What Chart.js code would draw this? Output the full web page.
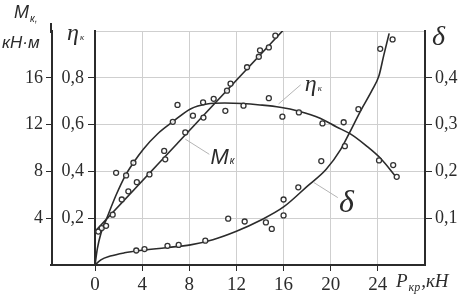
<!DOCTYPE html>
<html>
<head>
<meta charset="utf-8">
<script src="https://cdn.jsdelivr.net/npm/chart.js@4.4.1/dist/chart.umd.min.js"></script>
<style>
  html, body { margin: 0; padding: 0; background: #fff; }
</style>
</head>
<body>
<canvas id="chart" width="469" height="306"></canvas>
<script>
// tick labels
const xTicks = [0, 4, 8, 12, 16, 20, 24];
const mTicks = [4, 8, 12, 16];
const etaTicks = [0.2, 0.4, 0.6, 0.8];
const deltaTicks = [0.1, 0.2, 0.3, 0.4];

// fitted curves (P, kN)
const mLineP = [0, 16];
const mLineV = [2.86, 20.1];
const etaCurveP = [0, 0.2, 0.5, 1.0, 1.8, 2.55, 3.3, 4.1, 5.3, 6.6, 8.1, 9.5, 11, 12.5, 14, 15.7, 17.3, 19.1, 20.5, 21.7, 23, 24.3, 25.5];
const etaCurveV = [0, 0.07, 0.135, 0.2, 0.3, 0.38, 0.44, 0.495, 0.56, 0.612, 0.667, 0.688, 0.692, 0.69, 0.684, 0.674, 0.657, 0.627, 0.59, 0.559, 0.51, 0.452, 0.379];
const deltaCurveP = [0, 0.5, 1.3, 2.5, 3.8, 6, 8.1, 10, 12, 14, 16, 18, 19.6, 20.85, 21.6, 22.55, 23.5, 24.1, 24.5, 24.96];
const deltaCurveV = [0, 0.011, 0.019, 0.026, 0.031, 0.037, 0.043, 0.054, 0.072, 0.095, 0.124, 0.168, 0.204, 0.247, 0.283, 0.33, 0.373, 0.405, 0.448, 0.495];

// measured points
const mPtsP = [0.28, 0.57, 0.94, 1.5, 2.27, 2.83, 3.55, 4.62, 5.96, 5.87, 7.66, 8.31, 9.2, 10.07, 11.2, 11.5, 12.9, 13.9, 14.0, 14.75, 15.3];
const mPtsV = [2.86, 3.16, 3.35, 4.3, 5.6, 6.3, 7.08, 7.74, 9.03, 9.75, 11.33, 12.76, 12.6, 14.2, 14.9, 15.5, 16.9, 17.8, 18.35, 18.6, 19.6];
const etaPtsP = [1.79, 2.64, 3.26, 6.6, 7.0, 9.17, 11.06, 12.6, 14.75, 15.9, 17.3, 19.3, 21.1, 24.1, 25.3, 25.6];
const etaPtsV = [0.394, 0.383, 0.437, 0.612, 0.684, 0.695, 0.659, 0.681, 0.713, 0.634, 0.652, 0.605, 0.61, 0.447, 0.427, 0.377];
const deltaPtsP = [3.5, 4.2, 6.15, 7.1, 9.36, 11.3, 12.7, 14.5, 15.0, 16.0, 16.0, 17.25, 19.2, 21.2, 22.35, 24.2, 25.25];
const deltaPtsV = [0.031, 0.034, 0.041, 0.043, 0.052, 0.099, 0.093, 0.091, 0.077, 0.14, 0.106, 0.166, 0.222, 0.254, 0.333, 0.462, 0.482];

const ink = '#2b2b2b';
const gridCol = '#cfcfcf';
const none = 'rgba(0,0,0,0)';
const serif = '"Liberation Serif", "DejaVu Serif", serif';
const sans = '"Liberation Sans", "DejaVu Sans", sans-serif';

const near = (a, b) => Math.abs(a - b) < 1e-6;
const inList = (list, v) => list.some(t => near(t, v));
const fmt = v => v.toFixed(1).replace('.', ',');
const pts = (xs, ys) => xs.map((x, i) => ({ x: x, y: ys[i] }));

function curve(xs, ys, axis) {
	return {
		type: 'line', data: pts(xs, ys), yAxisID: axis, order: 2,
		borderColor: ink, borderWidth: 1.6, pointRadius: 0,
		cubicInterpolationMode: 'monotone', fill: false
	}
}
function dots(xs, ys, axis) {
	return {
		type: 'scatter', data: pts(xs, ys), yAxisID: axis, order: 1,
		pointRadius: 2.5, pointBorderWidth: 1.3,
		pointBorderColor: '#333', pointBackgroundColor: 'rgba(255,255,255,0.85)'
	}
}

function subText(ctx, main, sub, x, y, mainFont, subFont, dy) {
	ctx.font = mainFont;
	ctx.fillText(main, x, y);
	const w = ctx.measureText(main).width;
	ctx.font = subFont;
	ctx.fillText(sub, x + w + 1, y + dy);
	return x + w + 1 + ctx.measureText(sub).width;
}

const extras = {
	id: 'extras',
	afterDraw(chart) {
		const { ctx, chartArea: a, scales } = chart;
		const x = scales.x, yE = scales.yE, yM = scales.yM;
		const px = v => x.getPixelForValue(v);
		const py = v => yE.getPixelForValue(v);
		ctx.save();

		// outer frame pieces
		ctx.strokeStyle = ink;
		ctx.lineWidth = 2;
		ctx.beginPath();
		ctx.moveTo(yM.right - 1, a.top - 8);
		ctx.lineTo(yM.right - 1, a.top + 2);
		ctx.moveTo(yM.right - 2, a.bottom);
		ctx.lineTo(a.left, a.bottom);
		ctx.stroke();

		// leader lines
		ctx.strokeStyle = '#b4b4b4';
		ctx.lineWidth = 1;
		ctx.beginPath();
		ctx.moveTo(px(17.45), py(0.77)); ctx.lineTo(px(15.57), py(0.688));
		ctx.moveTo(px(7.66), py(0.538)); ctx.lineTo(px(9.7), py(0.473));
		ctx.moveTo(px(18.55), py(0.353)); ctx.lineTo(px(20.6), py(0.288));
		ctx.stroke();

		ctx.fillStyle = ink;
		ctx.textBaseline = 'alphabetic';
		ctx.textAlign = 'left';

		// axis titles
		subText(ctx, 'M', 'к,', 14, 18, 'italic 18px ' + sans, 'italic 10px ' + sans, 4);
		ctx.font = 'italic 17px ' + sans;
		ctx.fillText('кН·м', 2, 48);
		subText(ctx, 'η', 'к', 67, 40, 'italic 24px ' + serif, 'italic 9px ' + serif, 0);
		ctx.font = 'italic 28px ' + serif;
		ctx.fillText('δ', 432, 45);
		const e = subText(ctx, 'P', 'кр', 396, 287, 'italic 19px ' + serif, 'italic 12px ' + serif, 4);
		ctx.font = 'italic 19px ' + serif;
		ctx.fillText(',кН', e + 1, 287);

		// curve labels
		subText(ctx, 'η', 'к', px(17.8), py(0.744), 'italic 24px ' + serif, 'italic 9px ' + serif, 0);
		subText(ctx, 'M', 'к', px(9.79), py(0.433), 'italic 22px ' + sans, 'italic 10px ' + sans, 0);
		ctx.font = 'italic 32px ' + serif;
		ctx.fillText('δ', px(20.7), py(0.228));

		ctx.restore();
	}
};

new Chart(document.getElementById('chart'), {
	type: 'scatter',
	data: {
		datasets: [
			curve(mLineP, mLineV, 'yM'),
			curve(etaCurveP, etaCurveV, 'yE'),
			curve(deltaCurveP, deltaCurveV, 'yD'),
			dots(mPtsP, mPtsV, 'yM'),
			dots(etaPtsP, etaPtsV, 'yE'),
			dots(deltaPtsP, deltaPtsV, 'yD')
		]
	},
	options: {
		responsive: false,
		animation: false,
		devicePixelRatio: 1,
		layout: { padding: { top: 31, left: 0, right: 0, bottom: 0 } },
		plugins: { legend: { display: false }, tooltip: { enabled: false } },
		scales: {
			x: {
				type: 'linear', min: 0, max: 28,
				ticks: {
					stepSize: 4, padding: 3, color: ink, maxRotation: 0, autoSkip: false,
					font: { family: serif, size: 19 },
					callback: v => inList(xTicks, v) ? String(v) : ''
				},
				grid: {
					color: c => (near(c.tick.value, 0) || near(c.tick.value, 28)) ? none : gridCol,
					tickColor: c => inList(xTicks, c.tick.value) ? ink : none,
					tickLength: 6
				},
				border: { color: ink, width: 2 },
				afterFit: s => { s.height = 41 }
			},
			yE: {
				type: 'linear', position: 'left', weight: 0, min: 0, max: 1,
				ticks: {
					stepSize: 0.2, padding: 4, color: ink,
					font: { family: serif, size: 18 },
					callback: v => inList(etaTicks, v) ? fmt(v) : ''
				},
				grid: {
					color: c => near(c.tick.value, 0) ? none : gridCol,
					tickColor: c => inList(etaTicks, c.tick.value) ? ink : none,
					tickLength: 7
				},
				border: { color: ink, width: 2 },
				afterFit: s => { s.width = 43 }
			},
			yM: {
				type: 'linear', position: 'left', weight: 1, min: 0, max: 20,
				ticks: {
					stepSize: 4, padding: 3, color: ink,
					font: { family: serif, size: 18 },
					callback: v => inList(mTicks, v) ? String(v) : ''
				},
				grid: {
					drawOnChartArea: false,
					tickColor: c => inList(mTicks, c.tick.value) ? ink : none,
					tickLength: 6
				},
				border: { color: ink, width: 2 },
				afterFit: s => { s.width = 52 }
			},
			yD: {
				type: 'linear', position: 'right', min: 0, max: 0.5,
				ticks: {
					stepSize: 0.1, padding: 3, color: ink,
					font: { family: serif, size: 18 },
					callback: v => inList(deltaTicks, v) ? fmt(v) : ''
				},
				grid: {
					drawOnChartArea: false,
					tickColor: c => inList(deltaTicks, c.tick.value) ? ink : none,
					tickLength: 7
				},
				border: { color: ink, width: 2 },
				afterFit: s => { s.width = 44 }
			}
		}
	},
	plugins: [extras]
});
</script>
</body>
</html>
